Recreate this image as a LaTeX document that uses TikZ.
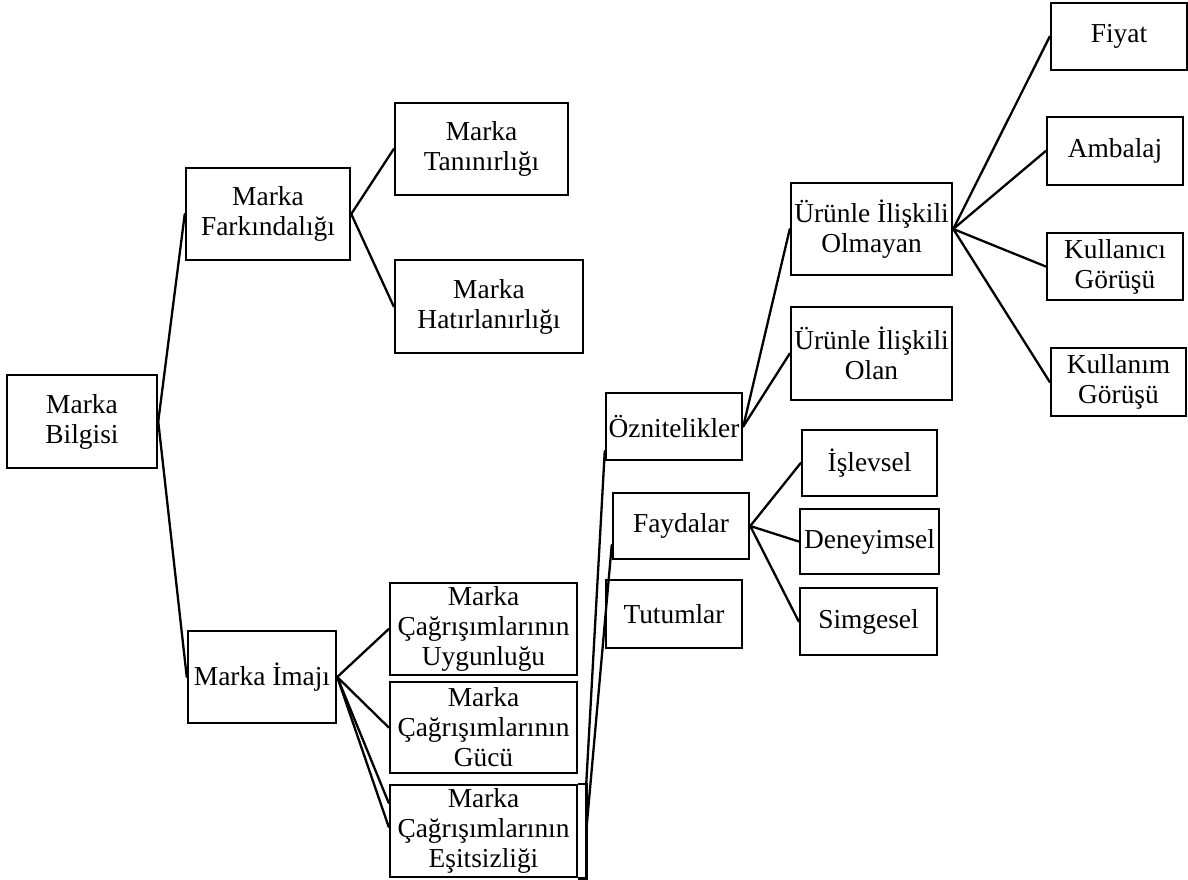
\documentclass[tikz,border=0pt]{standalone}
\usepackage{fontspec}
\setmainfont{Liberation Serif}
\usetikzlibrary{calc}
\tikzset{
  box/.style 2 args={draw=black, line width=1.25pt, fill=white, align=center,
    inner sep=0pt, minimum width=#1*0.5pt, minimum height=#2*0.5pt,
    font=\fontsize{13.7}{15}\selectfont},
  link/.style={draw=black, line width=1.15pt, line cap=round, line join=round}
}
\begin{document}
\begin{tikzpicture}[x=0.5pt, y=-0.5pt]
\useasboundingbox (0,0) rectangle (1188,879);

% first levels
\node[box={150}{93}] (bilgisi)  at (82,421.5)   {Marka\\Bilgisi};
\node[box={164}{92}] (fark)     at (268,214)    {Marka\\Farkındalığı};
\node[box={173}{92}] (tani)     at (481.5,149)  {Marka\\Tanınırlığı};
\node[box={188}{93}] (hatir)    at (489,306.5)  {Marka\\Hatırlanırlığı};
\node[box={148}{92}] (imaj)     at (262,677)    {Marka İmajı};

% brand associations
\node[box={187}{92}] (uyg)      at (483.5,629)  {Marka\\Çağrışımlarının\\Uygunluğu};
\node[box={187}{91}] (guc)      at (483.5,727.5){Marka\\Çağrışımlarının\\Gücü};
\node[box={187}{92}] (esit)     at (483.5,831)  {Marka\\Çağrışımlarının\\Eşitsizliği};
\draw[line width=1.25pt] (esit.north east) -- ++(8,0) |- (esit.south east);
\coordinate (esitNE) at ($(esit.north east)+(8,0)$);
\coordinate (esitE)  at ($(esit.east)+(8,0)$);

% types of associations
\node[box={136}{67}] (ozn)      at (674,426.5)  {Öznitelikler};
\node[box={136}{66}] (fayda)    at (681,526)    {Faydalar};
\node[box={136}{68}] (tutum)    at (674,614)    {Tutumlar};

% attributes
\node[box={161}{92}] (olmayan)  at (871.5,229)  {Ürünle İlişkili\\Olmayan};
\node[box={161}{93}] (olan)     at (871.5,353.5){Ürünle İlişkili\\Olan};
\node[box={136}{67}] (fiyat)    at (1119,36.5)  {Fiyat};
\node[box={136}{68}] (ambalaj)  at (1115,151)   {Ambalaj};
\node[box={136}{67}] (kullanici) at (1115,266.5){Kullanıcı\\Görüşü};
\node[box={135}{68}] (kullanim) at (1118.5,382) {Kullanım\\Görüşü};

% benefits
\node[box={135}{66}] (islevsel) at (869.5,463)  {İşlevsel};
\node[box={139}{65}] (deney)    at (869.5,541.5){Deneyimsel};
\node[box={137}{67}] (simge)    at (868.5,621.5){Simgesel};

% connectors
\draw[link] (bilgisi.east) -- (fark.west);
\draw[link] (bilgisi.east) -- (imaj.west);
\draw[link] (fark.east) -- (tani.west);
\draw[link] (fark.east) -- (hatir.west);
\draw[link] (imaj.east) -- (uyg.west);
\draw[link] (imaj.east) -- (guc.west);
\draw[link] (imaj.east) -- ($(esit.west)+(0,-28)$);
\draw[link] (imaj.east) -- ($(esit.west)+(0,-4)$);
\draw[link] ($(ozn.south west)+(0,-10)$) -- (esitNE);
\draw[link] ($(fayda.west)+(0,19)$) -- (esitE);
\draw[link] (ozn.east) -- (olmayan.west);
\draw[link] (ozn.east) -- (olan.west);
\draw[link] (olmayan.east) -- (fiyat.west);
\draw[link] (olmayan.east) -- (ambalaj.west);
\draw[link] (olmayan.east) -- (kullanici.west);
\draw[link] (olmayan.east) -- (kullanim.west);
\draw[link] (fayda.east) -- (islevsel.west);
\draw[link] (fayda.east) -- (deney.west);
\draw[link] (fayda.east) -- (simge.west);
\end{tikzpicture}
\end{document}
